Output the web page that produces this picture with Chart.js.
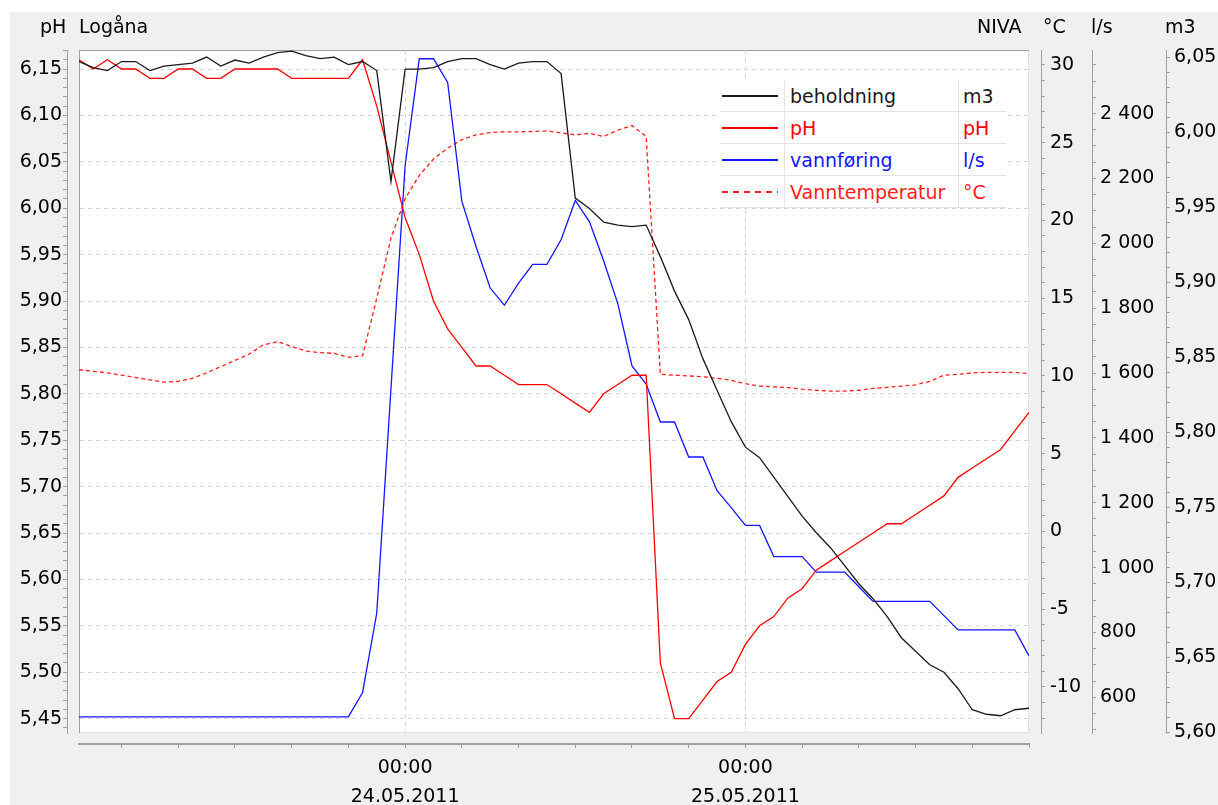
<!DOCTYPE html>
<html>
<head>
<meta charset="utf-8">
<title>pH Logåna</title>
<script src="https://cdn.jsdelivr.net/npm/chart.js@4/dist/chart.umd.min.js"></script>
<style>
  body { margin: 0; background: #fff; font-family: "DejaVu Sans", sans-serif; }
  #panel { position: absolute; left: 10px; top: 12px; width: 1208px; height: 793px; background: #f0f0f0; }
  .ttl { position: absolute; top: 17px; font-size: 19px; line-height: 19px; color: #000; white-space: nowrap; }
  #legend { position: absolute; left: 720px; top: 80px; width: 286px; background: #fff; font-size: 19px; }
  #legend .row { display: flex; height: 31px; border-bottom: 1px solid #e4e4e4; align-items: center; }
  #legend .smp { width: 64px; height: 100%; border-right: 1px solid #e4e4e4; display: flex; align-items: center; }
  #legend .nm { width: 168px; height: 100%; padding-left: 5px; border-right: 1px solid #e4e4e4; display: flex; align-items: center; }
  #legend .un { padding-left: 4px; height: 100%; display: flex; align-items: center; }
</style>
</head>
<body>
<div id="panel"><canvas id="c" width="1208" height="793"></canvas></div>
<div class="ttl" style="left:40px">pH</div>
<div class="ttl" style="left:79px">Logåna</div>
<div class="ttl" style="left:977px">NIVA</div>
<div class="ttl" style="left:1043px">°C</div>
<div class="ttl" style="left:1091px">l/s</div>
<div class="ttl" style="left:1165px">m3</div>
<div id="legend"></div>
<script>
// hourly readings, 23.05.2011 01:00 .. 25.05.2011 20:00 (x = hours since 23.05 00:00)
const hours = Array.from({length: 68}, (_, i) => i + 1);

const beholdning = [6.047, 6.043, 6.041, 6.047, 6.047, 6.041, 6.044, 6.045, 6.046, 6.050,
  6.044, 6.048, 6.046, 6.050, 6.053, 6.054, 6.051, 6.049, 6.050, 6.045,
  6.047, 6.041, 5.967, 6.042, 6.042, 6.043, 6.047, 6.049, 6.049, 6.045,
  6.042, 6.046, 6.047, 6.047, 6.039, 5.956, 5.949, 5.940, 5.938, 5.937,
  5.938, 5.917, 5.894, 5.875, 5.849, 5.828, 5.807, 5.790, 5.783, 5.770,
  5.757, 5.744, 5.733, 5.723, 5.711, 5.699, 5.689, 5.677, 5.663, 5.654,
  5.645, 5.640, 5.629, 5.615, 5.612, 5.611, 5.615, 5.616];

const ph = [6.16, 6.15, 6.16, 6.15, 6.15, 6.14, 6.14, 6.15, 6.15, 6.14,
  6.14, 6.15, 6.15, 6.15, 6.15, 6.14, 6.14, 6.14, 6.14, 6.14,
  6.16, 6.11, 6.05, 5.99, 5.95, 5.90, 5.87, 5.85, 5.83, 5.83,
  5.82, 5.81, 5.81, 5.81, 5.80, 5.79, 5.78, 5.80, 5.81, 5.82,
  5.82, 5.51, 5.45, 5.45, 5.47, 5.49, 5.50, 5.53, 5.55, 5.56,
  5.58, 5.59, 5.61, 5.62, 5.63, 5.64, 5.65, 5.66, 5.66, 5.67,
  5.68, 5.69, 5.71, 5.72, 5.73, 5.74, 5.76, 5.78];

const vannforing = [540, 540, 540, 540, 540, 540, 540, 540, 540, 540,
  540, 540, 540, 540, 540, 540, 540, 540, 540, 540,
  615, 860, 1550, 2240, 2569, 2569, 2496, 2130, 1990, 1862,
  1809, 1877, 1935, 1935, 2011, 2132, 2066, 1946, 1814, 1622,
  1566, 1449, 1449, 1341, 1341, 1237, 1185, 1130, 1130, 1034,
  1034, 1034, 986, 986, 986, 941, 896, 896, 896, 896,
  896, 852, 808, 808, 808, 808, 808, 728];

const vanntemp = [10.4, 10.3, 10.2, 10.05, 9.9, 9.75, 9.6, 9.65, 9.85, 10.2,
  10.6, 11.0, 11.4, 12.0, 12.2, 11.9, 11.6, 11.5, 11.45, 11.2,
  11.3, 15.0, 18.85, 21.4, 22.9, 23.95, 24.65, 25.2, 25.5, 25.65,
  25.7, 25.7, 25.72, 25.76, 25.63, 25.5, 25.6, 25.4, 25.8, 26.1,
  25.4, 10.1, 10.05, 10.0, 9.95, 9.85, 9.72, 9.5, 9.35, 9.3,
  9.25, 9.15, 9.08, 9.03, 9.03, 9.08, 9.2, 9.27, 9.35, 9.43,
  9.65, 10.05, 10.1, 10.2, 10.23, 10.23, 10.23, 10.15];

const seriesNames = ['beholdning', 'pH', 'vannføring', 'Vanntemperatur'];
const seriesUnits = ['m3', 'pH', 'l/s', '°C'];
const seriesColors = ['#1a1a1a', '#ff0000', '#1414ff', '#ff2020'];

const tickHours = [24, 48];
const tickLabels = [['00:00', '24.05.2011'], ['00:00', '25.05.2011']];

Chart.defaults.font.family = 'DejaVu Sans';
Chart.defaults.font.size = 19;
Chart.defaults.color = '#000';

const axisGray = '#a0a0a0';
const gridGray = '#d6d6d6';
const none = 'rgba(0,0,0,0)';
const everyFive = v => Math.round(v * 100) % 5 === 0;
const comma2 = v => v.toFixed(2).replace('.', ',');
const spaced = v => String(Math.round(v)).replace(/\B(?=(\d{3})+(?!\d))/g, ' ');

function sideAxis(pos, weight, width, min, max, step, label, pad) {
  return {
    type: 'linear', position: pos, weight: weight, min: min, max: max,
    ticks: { stepSize: step, autoSkip: false, includeBounds: false, padding: pad, callback: label },
    grid: { drawOnChartArea: false, tickColor: axisGray, tickLength: 4 },
    border: { color: axisGray },
    afterFit: s => { s.width = width; }
  };
}
function gap(pos, weight, size) {
  return {
    type: 'linear', position: pos, weight: weight,
    ticks: { display: false }, grid: { display: false }, border: { display: false },
    afterFit: s => { if (pos === 'bottom') s.height = size; else s.width = size; }
  };
}

const plotBg = {
  id: 'plotBg',
  beforeDraw(chart) {
    const a = chart.chartArea, ctx = chart.ctx;
    ctx.save();
    ctx.fillStyle = '#fff';
    ctx.fillRect(a.left, a.top, a.right - a.left, a.bottom - a.top);
    ctx.strokeStyle = '#e2e2e2';
    ctx.strokeRect(a.left + 0.5, a.top + 0.5, a.right - a.left - 1, a.bottom - a.top - 1);
    ctx.strokeStyle = axisGray;
    ctx.beginPath();
    ctx.moveTo(a.left + 0.5, a.bottom);
    ctx.lineTo(a.left + 0.5, a.top + 0.5);
    ctx.lineTo(a.right, a.top + 0.5);
    ctx.stroke();
    ctx.restore();
  }
};

const series = [beholdning, ph, vannforing, vanntemp];
const axisIds = ['vol', 'ph', 'flow', 'temp'];

new Chart(document.getElementById('c'), {
  type: 'line',
  data: {
    datasets: series.map((vals, k) => ({
      label: seriesNames[k],
      data: hours.map((h, i) => ({ x: h, y: vals[i] })),
      yAxisID: axisIds[k],
      borderColor: seriesColors[k],
      borderWidth: 1.3,
      borderDash: k === 3 ? [4, 3] : [],
      pointRadius: 0,
      tension: 0,
      fill: false
    }))
  },
  options: {
    responsive: false,
    animation: false,
    devicePixelRatio: 1,
    layout: { padding: { top: 38, left: 0, right: 0, bottom: 0 } },
    plugins: { legend: { display: false }, tooltip: { enabled: false } },
    scales: {
      x: {
        type: 'linear', position: 'bottom', weight: 1, min: 1, max: 68,
        ticks: {
          stepSize: 4, includeBounds: false, autoSkip: false, maxRotation: 0, minRotation: 0,
          padding: 6, font: { size: 19, lineHeight: 1.5 },
          callback: v => { const k = tickHours.indexOf(v); return k >= 0 ? tickLabels[k] : ''; }
        },
        grid: { color: c => tickHours.includes(c.tick && c.tick.value) ? gridGray : none, tickColor: axisGray, tickLength: 4 },
        border: { color: axisGray, width: 2, dash: [4, 4] },
        afterFit: s => { s.height = 61; }
      },
      gapB: gap('bottom', 0, 11),
      ph: {
        type: 'linear', position: 'left', weight: 1, min: 5.4345, max: 6.1705,
        ticks: { stepSize: 0.01, autoSkip: false, includeBounds: false, padding: 1,
          callback: v => everyFive(v) ? comma2(v) : '' },
        grid: { color: c => (c.tick && everyFive(c.tick.value)) ? gridGray : none, tickColor: axisGray, tickLength: 4 },
        border: { color: axisGray, dash: [4, 4] },
        afterFit: s => { s.width = 57; }
      },
      gapL: gap('left', 0, 12),
      gapR: gap('right', 0, 12),
      temp: sideAxis('right', 1, 51, -12.96, 30.96, 1, v => v % 5 === 0 ? String(v) : '', 5),
      flow: sideAxis('right', 2, 74, 490, 2596, 50, v => v % 200 === 0 ? spaced(v) : '', 4),
      vol: sideAxis('right', 3, 52, 5.5995, 6.0547, 0.01, v => everyFive(v) ? comma2(v) : '', 4)
    }
  },
  plugins: [plotBg]
});

// legend table
const lg = document.getElementById('legend');
seriesNames.forEach((name, k) => {
  const row = document.createElement('div');
  row.className = 'row';
  const smp = document.createElement('div');
  smp.className = 'smp';
  const ln = document.createElement('div');
  ln.style.marginLeft = '2px';
  ln.style.width = '56px';
  ln.style.height = '2px';
  ln.style.background = k === 3
    ? 'repeating-linear-gradient(90deg,' + seriesColors[k] + ' 0 6px, transparent 6px 11px)'
    : seriesColors[k];
  smp.appendChild(ln);
  const nm = document.createElement('div');
  nm.className = 'nm';
  nm.textContent = name;
  nm.style.color = seriesColors[k];
  const un = document.createElement('div');
  un.className = 'un';
  un.textContent = seriesUnits[k];
  un.style.color = seriesColors[k];
  row.append(smp, nm, un);
  lg.appendChild(row);
});
</script>
</body>
</html>
